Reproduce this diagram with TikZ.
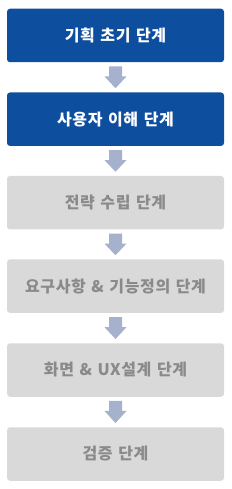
\documentclass[tikz,border=0pt]{standalone}
\usepackage{fontspec}
\usepackage{tikz}
\usepackage{xcolor}
\usetikzlibrary{calc}
\newfontfamily\krfont{Noto Sans CJK KR}[LetterSpace=4,WordSpace=1.3]
\definecolor{stepblue}{RGB}{14,78,158}
\definecolor{stepgray}{RGB}{217,217,217}
\definecolor{stepgraytext}{RGB}{138,138,138}
\definecolor{arrowfill}{RGB}{166,177,206}

\begin{document}
\begin{tikzpicture}[x=1pt,y=1pt,
  stepbox/.style={rectangle,rounded corners=3pt,minimum width=217pt,minimum height=53.5pt,
    font=\krfont\bfseries\fontsize{16}{18}\selectfont,inner sep=0pt},
  donebox/.style={stepbox,fill=stepblue,text=white},
  todobox/.style={stepbox,fill=stepgray,text=stepgraytext}]
\useasboundingbox (0,0) rectangle (232,-489);
\node[donebox] (s1) at (115.5,-35.5) {기획 초기 단계};
\node[donebox] (s2) at (115.5,-119.2) {사용자 이해 단계};
\node[todobox] (s3) at (115.5,-202.7) {전략 수립 단계};
\node[todobox] (s4) at (115.5,-286.2) {요구사항 \& 기능정의 단계};
\node[todobox] (s5) at (115.5,-370) {화면 \& UX설계 단계};
\node[todobox] (s6) at (115.5,-454) {검증 단계};
% block arrows between steps
\foreach \a/\b in {s1/s2,s2/s3,s3/s4,s4/s5,s5/s6}{
  \fill[arrowfill] ($(\a.south)+(-6.5,-4)$) -- ++(13,0) -- ++(0,-10) -- ++(4.5,0)
    -- ($(\b.north)+(0,4)$) -- ($(\a.south)+(-11,-14)$) -- ++(4.5,0) -- cycle;
}
\end{tikzpicture}
\end{document}
